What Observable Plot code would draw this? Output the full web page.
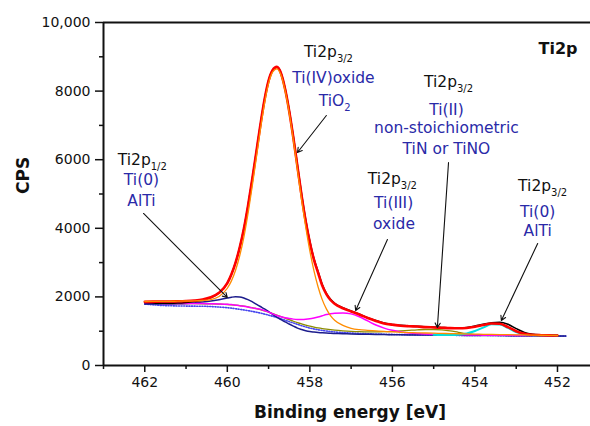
<!DOCTYPE html>
<html><head><meta charset="utf-8">
<script src="https://cdn.jsdelivr.net/npm/d3@7"></script>
<script src="https://cdn.jsdelivr.net/npm/@observablehq/plot@0.6"></script>
<style>body{margin:0;background:#fff}#chart svg{display:block}</style>
</head><body><div id="chart"></div>
<script>
// Binding energy grid (eV)
const energy = [
462.0,461.8,461.6,461.4,461.2,461.0,460.8,460.6,460.4,460.2,
460.0,459.9,459.8,459.7,459.6,459.5,459.4,459.3,459.2,459.1,
459.0,458.9,458.8,458.7,458.6,458.5,458.4,458.3,458.2,458.1,
458.0,457.9,457.8,457.7,457.6,457.5,457.4,
457.2,457.0,456.8,456.6,456.4,456.2,456.0,455.8,455.6,455.4,
455.2,455.0,454.8,454.6,454.4,454.2,454.0,453.8,453.6,453.4,
453.2,453.0,452.8,452.6,452.4,452.2,452.0,451.8];

// Measured spectrum (black)
const measured = [
1830,1822,1815,1815,1820,1838,1865,1905,1980,2115,
2400,2660,3000,3440,3980,4645,5400,6200,7005,7740,
8304,8615,8700,8530,8080,7440,6670,5830,4990,4240,
3620,3110,2730,2360,2100,1930,1815,
1685,1590,1495,1395,1310,1240,1195,1170,1152,1140,
1130,1120,1108,1098,1095,1110,1150,1200,1245,1260,
1200,1075,965,912,892,882,878,null];

// Fitted envelope (red)
const envelope = [
1860,1862,1865,1868,1872,1880,1895,1925,1990,2120,
2400,2660,3000,3440,3980,4645,5400,6200,7005,7740,
8304,8615,8705,8520,8060,7415,6640,5795,4950,4200,
3580,3080,2700,2330,2080,1910,1800,
1670,1575,1485,1385,1300,1225,1190,1160,1145,1135,
1120,1110,1100,1090,1085,1095,1130,1180,1225,1215,
1120,1000,925,896,884,878,875,null];

// Ti2p3/2 Ti(IV) oxide TiO2 component (orange)
const tiIV = [
1866,1868,1870,1872,1875,1880,1883,1895,1924,2012,
2252,2467,2777,3199,3739,4420,5198,6031,6865,7628,
8224,8560,8650,8470,8010,7360,6570,5700,4830,4040,
3340,2760,2290,1920,1650,1456,1320,
1170,1085,1045,1025,1008,992,978,968,960,953,
947,941,935,930,925,920,915,910,906,902,
898,894,890,886,882,878,875,null];

// Ti2p1/2 Ti(0) AlTi component (navy)
const ti0half = [
1790,1790,1792,1795,1800,1810,1825,1850,1880,1920,
1965,1990,2005,2000,1970,1920,1860,1790,1720,1650,
1570,1490,1410,1340,1270,1210,1150,1090,1050,1015,
990,975,962,952,945,940,935,
928,920,914,909,905,901,898,895,892,890,
888,886,884,882,880,878,876,874,873,872,
871,869,868,866,865,864,862,861];

// Ti2p3/2 Ti(III) oxide component (magenta)
const tiIII = [
1820,1815,1810,1808,1806,1805,1805,1804,1800,1795,
1785,1775,1760,1745,1725,1705,1680,1662,1640,1600,
1555,1505,1460,1420,1390,1368,1352,1342,1340,1345,
1360,1385,1415,1450,1485,1510,1525,
1530,1505,1420,1300,1180,1090,1025,980,950,930,
918,910,904,899,895,891,888,885,883,881,
879,877,875,873,871,869,867,null];

// Ti2p3/2 Ti(II) TiN / TiNO component (olive)
const tiII = [
1820,1815,1810,1808,1806,1805,1803,1800,1795,1788,
1778,1770,1760,1748,1732,1712,1688,1660,1628,1592,
1555,1515,1472,1428,1382,1335,1290,1248,1210,1175,
1145,1118,1095,1075,1058,1043,1030,
1010,995,985,980,980,985,995,1010,1025,1040,
1050,1050,1040,1012,968,928,902,893,888,884,
880,877,874,872,870,868,866,null];

// Ti2p3/2 Ti(0) AlTi component (cyan)
const ti0 = [
null,null,null,null,null,null,null,null,null,null,
null,null,null,null,null,null,null,null,null,null,
null,null,null,null,null,null,null,null,null,null,
null,null,null,null,null,null,null,
null,null,null,null,null,null,null,null,null,null,
null,893,890,888,898,935,1005,1105,1200,1192,
1095,975,905,885,877,873,870,null];

// Background (dotted blue)
const background = [
1790,1770,1752,1742,1736,1732,1730,1728,1718,1704,
1685,1672,1655,1638,1620,1600,1578,1555,1530,1500,
1468,1435,1400,1360,1320,1280,1240,1200,1160,1125,
1092,1065,1042,1022,1005,990,978,
960,946,935,926,918,912,906,901,897,893,
890,887,884,881,879,877,875,880,878,870,
866,863,861,859,858,857,856,855];

// Axis ticks
const xMajorTicks = [462, 460, 458, 456, 454, 452];
const xMinorTicks = [463, 461, 459, 457, 455, 453];
const yMajorTicks = [0, 2000, 4000, 6000, 8000, 10000];
const yMinorTicks = [1000, 3000, 5000, 7000, 9000];
const yTickLabels = ["0", "2000", "4000", "6000", "8000", "10,000"];

// Annotations (data units)
const annoText = ["Ti2p_{3/2}","Ti(IV)oxide","TiO_{2}",
  "Ti2p_{3/2}","Ti(II)","non-stoichiometric","TiN or TiNO",
  "Ti2p_{3/2}","Ti(III)","oxide",
  "Ti2p_{3/2}","Ti(0)","AlTi",
  "Ti2p_{1/2}","Ti(0)","AlTi"];
const annoEnergy = [457.55,457.43,457.40, 454.64,454.69,454.69,454.69, 456.00,455.97,455.96, 452.36,452.48,452.48, 462.06,462.08,462.08];
const annoCps = [8980,8222,7580, 8105,7289,6764,6152, 5277,4606,3994, 5073,4344,3790, 5831,5248,4636];
const annoKind = ["level","state","state","level","state","state","state","level","state","state","level","state","state","level","state","state"];

const arrowFromE = [457.60, 454.64, 456.12, 452.48, 462.03];
const arrowFromC = [7289, 5918, 3674, 3557, 4432];
const arrowToE = [458.30, 454.91, 456.89, 453.36, 460.00];
const arrowToC = [6210, 1108, 1604, 1312, 1983];

// ---- build tables ----
const seriesDefs = [
  {name: "background", values: background, stroke: "#4646ee", width: 1.6, dash: "1,1.6"},
  {name: "tiII", values: tiII, stroke: "#8c8c00", width: 1.3},
  {name: "ti0half", values: ti0half, stroke: "#1c1c8c", width: 1.5},
  {name: "tiIII", values: tiIII, stroke: "#ff00ff", width: 1.5},
  {name: "ti0", values: ti0, stroke: "#00e0e0", width: 2},
  {name: "measured", values: measured, stroke: "#000000", width: 1.6},
  {name: "envelope", values: envelope, stroke: "#ff0000", width: 2.6},
  {name: "tiIV", values: tiIV, stroke: "#ff8c00", width: 1.3}
];
const lineMarks = seriesDefs.map(s => {
  const rows = energy.map((e, i) => ({energy: e, cps: s.values[i]}));
  return Plot.line(rows, {x: "energy", y: "cps", stroke: s.stroke, strokeWidth: s.width,
    strokeDasharray: s.dash, curve: "monotone-x"});
});
const annos = annoText.map((t, i) => ({text: t, energy: annoEnergy[i], cps: annoCps[i], kind: annoKind[i]}));
const arrows = arrowFromE.map((e, i) => ({x1: e, y1: arrowFromC[i], x2: arrowToE[i], y2: arrowToC[i]}));

const chart = Plot.plot({
  width: 590, height: 426,
  marginLeft: 103, marginRight: 0, marginTop: 22, marginBottom: 61,
  x: {domain: [463, 451.2], label: null},
  y: {domain: [0, 10000], label: null},
  style: {fontFamily: "'DejaVu Sans', sans-serif", background: "#fff", overflow: "visible", color: "#111"},
  marks: [
    Plot.axisX({ticks: xMajorTicks, tickSize: 7, tickPadding: 5, fontSize: 14, strokeWidth: 1.5, label: null, tickFormat: d => String(d)}),
    Plot.axisX({ticks: xMinorTicks, tickSize: 4, strokeWidth: 1.5, label: null, tickFormat: () => ""}),
    Plot.axisY({ticks: yMajorTicks, tickSize: 8, tickPadding: 5, fontSize: 14, strokeWidth: 1.5, label: null,
      tickFormat: d => yTickLabels[yMajorTicks.indexOf(d)]}),
    Plot.axisY({ticks: yMinorTicks, tickSize: 4, strokeWidth: 1.5, label: null, tickFormat: () => ""}),
    ...lineMarks,
    Plot.ruleY([0, 10000], {strokeWidth: 2, stroke: "#111"}),
    Plot.ruleX([463], {strokeWidth: 2, stroke: "#111"}),
    Plot.arrow(arrows, {x1: "x1", y1: "y1", x2: "x2", y2: "y2", stroke: "#111", strokeWidth: 1.1, headLength: 7}),
    Plot.text(annos, {x: "energy", y: "cps", text: "text", fill: d => d.kind === "level" ? "#111" : "#2a2aa8",
      fontSize: 15.5, textAnchor: "middle", lineAnchor: "bottom"}),
    Plot.text(["Ti2p"], {text: d => d, frameAnchor: "top-right", textAnchor: "end", lineAnchor: "bottom", dx: -13, dy: 31, fontWeight: "bold", fontSize: 16, fill: "#111"}),
    Plot.text(["CPS"], {text: d => d, frameAnchor: "left", rotate: -90, dx: -80, fontWeight: "bold", fontSize: 17, fill: "#111"}),
    Plot.text(["Binding energy [eV]"], {text: d => d, frameAnchor: "bottom", lineAnchor: "bottom", dx: 3, dy: 52, fontWeight: "bold", fontSize: 17, fill: "#111"})
  ]
});

// subscripts
chart.querySelectorAll("text").forEach(t => {
  const s = t.textContent;
  const m = s.match(/^(.*)_\{(.*)\}$/);
  if (!m) return;
  t.textContent = m[1];
  const ts = document.createElementNS("http://www.w3.org/2000/svg", "tspan");
  ts.setAttribute("dy", "5");
  ts.setAttribute("font-size", "10");
  ts.textContent = m[2];
  t.appendChild(ts);
});
document.getElementById("chart").appendChild(chart);
</script>
</body></html>
